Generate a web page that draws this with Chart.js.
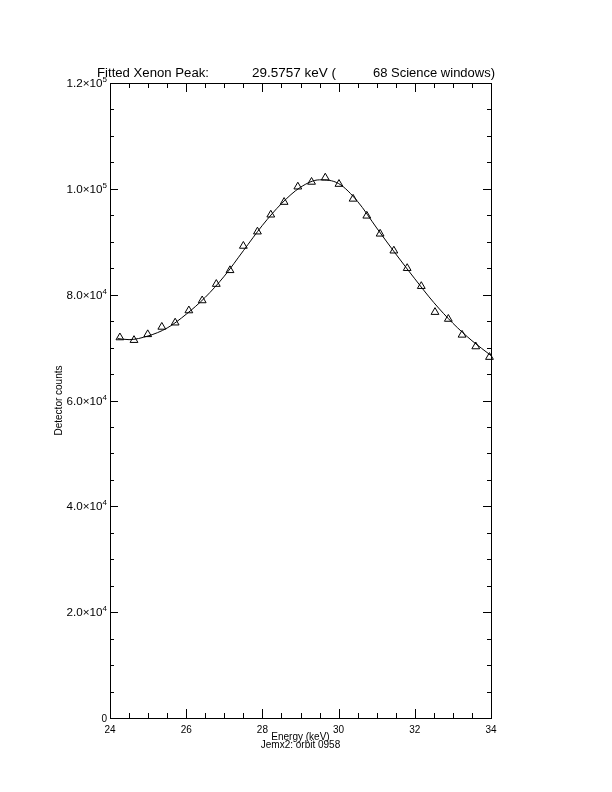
<!DOCTYPE html>
<html>
<head>
<meta charset="utf-8">
<script src="https://cdn.jsdelivr.net/npm/chart.js@4.4.0/dist/chart.umd.min.js"></script>
<style>
  body { margin: 0; background: #fff; }
  canvas { display: block; }
</style>
</head>
<body>
<canvas id="xenonChart" width="612" height="792"></canvas>
<script>
// Measured spectrum (triangles)
const energy = [24.26, 24.63, 24.99, 25.36, 25.71, 26.07, 26.42, 26.79, 27.15, 27.50,
                27.87, 28.22, 28.57, 28.93, 29.29, 29.65, 30.01, 30.38, 30.74, 31.09,
                31.45, 31.80, 32.17, 32.53, 32.88, 33.24, 33.60, 33.96];
const counts = [71900, 71400, 72500, 73900, 74700, 77000, 78900, 82000, 84600, 89200,
                91900, 95100, 97500, 100400, 101300, 102100, 100900, 98100, 94900, 91500,
                88300, 85000, 81600, 76700, 75400, 72400, 70200, 68200];

// Fitted curve
const fitEnergy = [24.2, 24.5, 25.0, 25.5, 26.0, 26.5, 27.0, 27.5, 28.0, 28.5, 29.0,
                   29.5, 30.0, 30.5, 31.0, 31.5, 32.0, 32.5, 33.0, 33.5, 34.0];
const fitCounts = [71700, 71500, 72200, 73700, 76300, 79500, 83500, 88300, 93100, 97200, 100300,
                   101700, 101000, 97600, 92600, 87700, 83000, 78500, 74600, 71300, 68500];

// Axes
const xMajor = [24, 26, 28, 30, 32, 34];
const xTickLabels = ['24', '26', '28', '30', '32', '34'];
const yMajor = [0, 20000, 40000, 60000, 80000, 100000, 120000];
const yTickBase = ['0', '2.0×10', '4.0×10', '6.0×10', '8.0×10', '1.0×10', '1.2×10'];
const yTickExp = ['', '4', '4', '4', '4', '5', '5'];

const titleParts = ['Fitted Xenon Peak:', '29.5757 keV (', '68 Science windows)'];
const xTitle = 'Energy (keV)';
const xSubtitle = 'Jemx2: orbit 0958';
const yTitle = 'Detector counts';

const FONT = "'Liberation Sans', Arial, sans-serif";

// draw text squeezed/stretched to a given width
function fitText(ctx, text, x, y, size, width, align) {
    ctx.save();
    ctx.font = size + 'px ' + FONT;
    const w = ctx.measureText(text).width;
    const sx = width ? width / w : 1;
    let x0 = x;
    const real = w * sx;
    if (align === 'center') x0 = x - real / 2;
    else if (align === 'right') x0 = x - real;
    ctx.translate(x0, y);
    ctx.scale(sx, 1);
    ctx.textAlign = 'left';
    ctx.fillText(text, 0, 0);
    ctx.restore();
    return real;
}

const idlAxes = {
    id: 'idlAxes',
    afterDatasetsDraw(chart) {
        const ctx = chart.ctx;
        const area = chart.chartArea;
        const xs = chart.scales.x;
        const ys = chart.scales.y;
        ctx.save();
        ctx.strokeStyle = '#000';
        ctx.fillStyle = '#000';
        ctx.lineWidth = 1;

        // frame
        ctx.strokeRect(area.left + 0.5, area.top + 0.5, area.right - area.left, area.bottom - area.top);

        ctx.beginPath();
        // x ticks (bottom pointing up, top pointing down)
        for (let v = xs.min; v <= xs.max + 1e-9; v += 0.5) {
            const px = Math.round(xs.getPixelForValue(v)) + 0.5;
            const len = xMajor.includes(v) ? 9 : 5;
            ctx.moveTo(px, area.bottom);
            ctx.lineTo(px, area.bottom - len);
            ctx.moveTo(px, area.top);
            ctx.lineTo(px, area.top + len);
        }
        // y ticks (left pointing right, right pointing left)
        for (let v = ys.min; v <= ys.max + 1e-9; v += 5000) {
            const py = Math.round(ys.getPixelForValue(v)) + 0.5;
            const len = yMajor.includes(v) ? 8 : 4;
            ctx.moveTo(area.left, py);
            ctx.lineTo(area.left + len, py);
            ctx.moveTo(area.right, py);
            ctx.lineTo(area.right - len, py);
        }
        ctx.stroke();

        // tick labels
        ctx.textBaseline = 'alphabetic';
        xMajor.forEach((v, i) => {
            fitText(ctx, xTickLabels[i], xs.getPixelForValue(v), area.bottom + 15, 10, 0, 'center');
        });
        yMajor.forEach((v, i) => {
            const py = ys.getPixelForValue(v) + 4;
            const right = area.left - 3;
            if (yTickExp[i]) {
                const ew = fitText(ctx, yTickExp[i], right, py - 5, 8, 0, 'right');
                fitText(ctx, yTickBase[i], right - ew, py, 10, 36, 'right');
            } else {
                fitText(ctx, yTickBase[i], right, py, 10, 0, 'right');
            }
        });

        // axis titles
        fitText(ctx, xTitle, (area.left + area.right) / 2, area.bottom + 22, 10, 0, 'center');
        fitText(ctx, xSubtitle, (area.left + area.right) / 2, area.bottom + 30, 10, 0, 'center');

        ctx.save();
        ctx.translate(62, (area.top + area.bottom) / 2);
        ctx.rotate(-Math.PI / 2);
        fitText(ctx, yTitle, 0, 0, 10, 0, 'center');
        ctx.restore();

        // title
        fitText(ctx, titleParts[0], 97, 77, 12, 112, 'left');
        fitText(ctx, titleParts[1], 252, 77, 12, 84, 'left');
        fitText(ctx, titleParts[2], 373, 77, 12, 122, 'left');

        ctx.restore();
    }
};

new Chart(document.getElementById('xenonChart'), {
    type: 'scatter',
    data: {
        datasets: [
            {
                label: 'Fit',
                data: fitEnergy.map((e, i) => ({ x: e, y: fitCounts[i] })),
                showLine: true,
                borderColor: '#000',
                borderWidth: 1,
                pointRadius: 0,
                cubicInterpolationMode: 'monotone',
                fill: false
            },
            {
                label: 'Counts',
                data: energy.map((e, i) => ({ x: e, y: counts[i] })),
                showLine: false,
                pointStyle: 'triangle',
                pointRadius: 4.5,
                borderColor: '#000',
                borderWidth: 1,
                backgroundColor: 'rgba(0,0,0,0)',
                clip: false
            }
        ]
    },
    options: {
        responsive: false,
        animation: false,
        layout: {
            padding: { left: 110, top: 83, right: 121, bottom: 74 }
        },
        scales: {
            x: { type: 'linear', min: 24, max: 34, display: false },
            y: { min: 0, max: 120000, display: false }
        },
        plugins: {
            legend: { display: false },
            tooltip: { enabled: false }
        }
    },
    plugins: [idlAxes]
});
</script>
</body>
</html>
